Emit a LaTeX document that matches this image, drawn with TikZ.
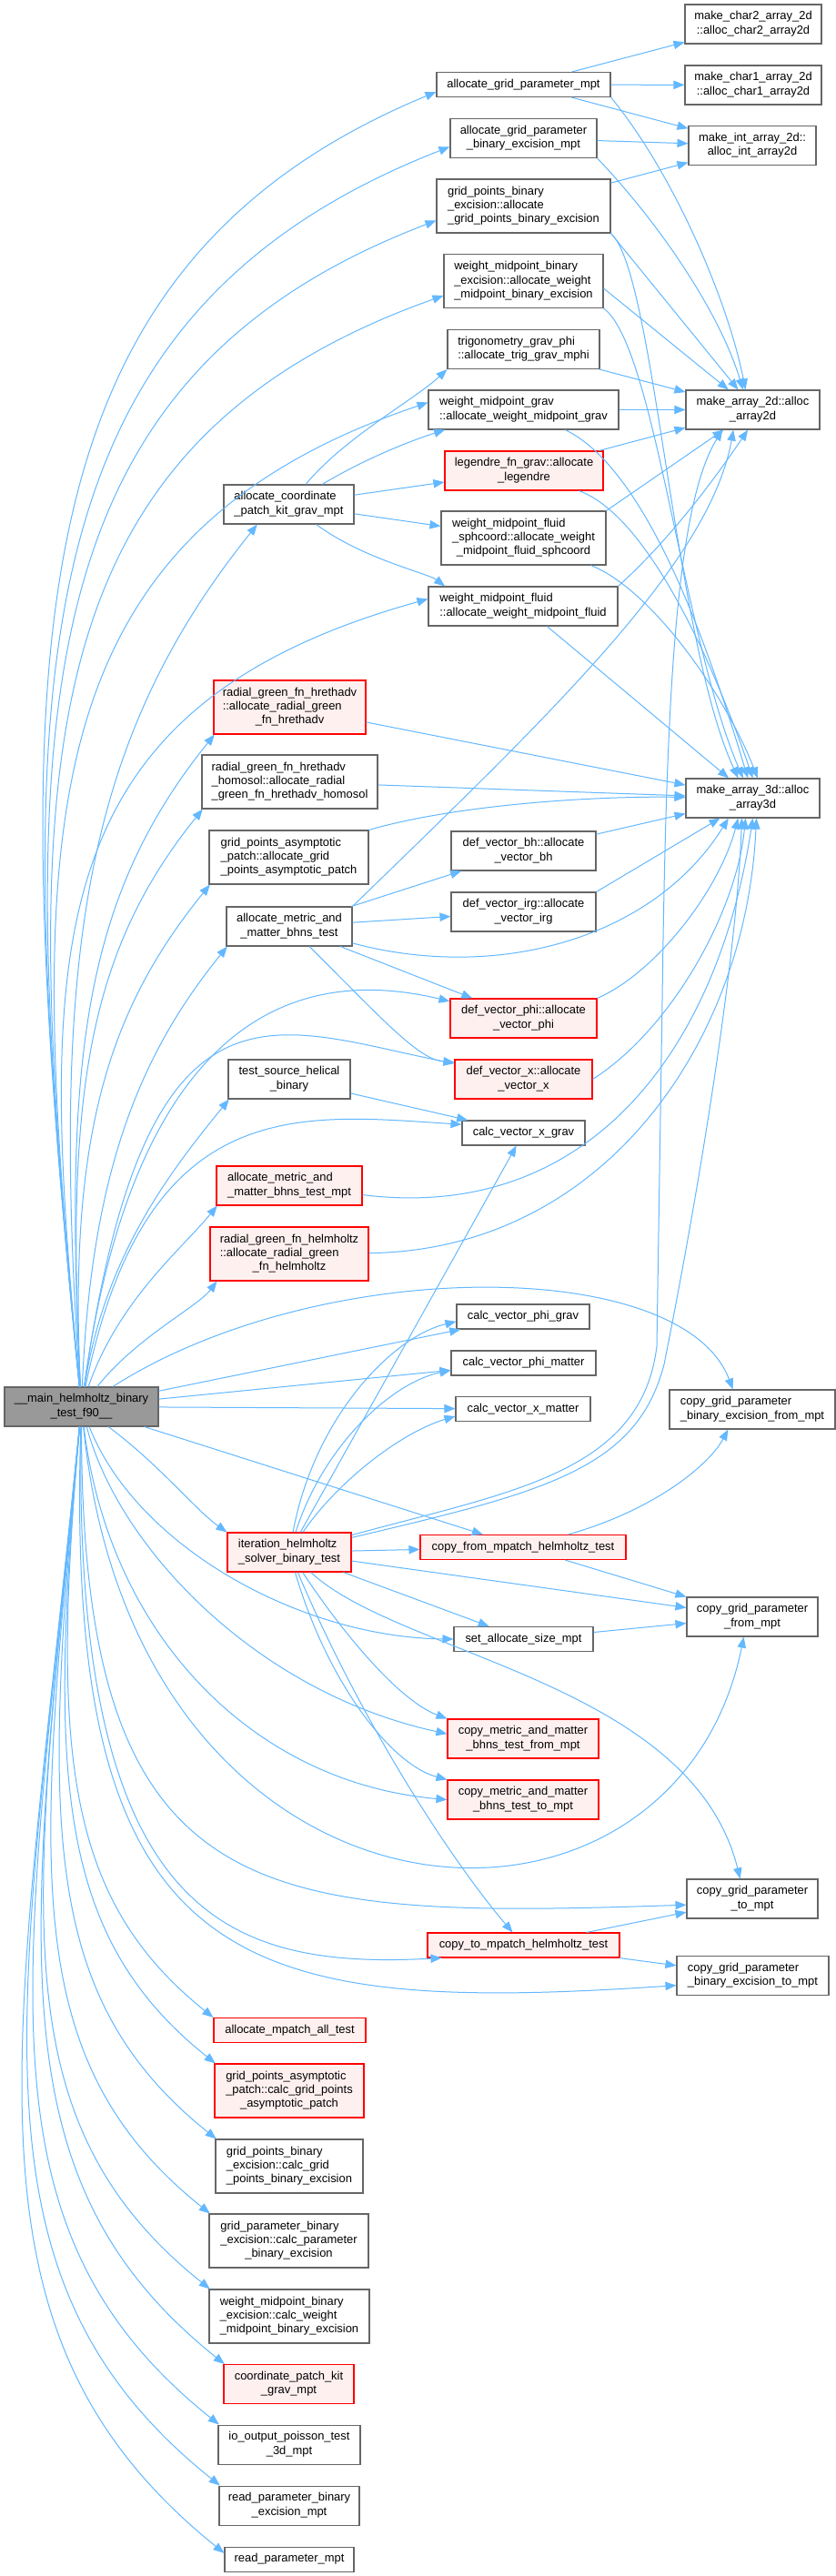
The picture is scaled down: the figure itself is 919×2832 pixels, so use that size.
\documentclass[tikz,border=0pt]{standalone}
\usepackage{fontspec}
\setmainfont{Liberation Sans}
\usetikzlibrary{arrows.meta}
\definecolor{edgec}{HTML}{63B8FF}
\definecolor{boxg}{HTML}{666666}
\definecolor{redfill}{HTML}{FFF0F0}
\definecolor{mainfill}{HTML}{999999}
\newcommand\lc[1]{\multicolumn{1}{@{}c@{}}{#1}}
\newcommand\tb[1]{\begin{tabular}{@{}l@{}}#1\end{tabular}}
\newcommand\gnode[7]{\node[#2, minimum width={#5*0.75pt}, minimum height={#6*0.75pt}] (#1) at (#3,#4) {#7};}
\tikzset{
 gb/.style={draw=boxg, fill=white, line width=0.8pt, inner sep=0pt, font=\fontsize{9.7}{11.5}\selectfont},
 rb/.style={gb, draw=red, fill=redfill},
 mb/.style={gb, fill=mainfill},
 conn/.style={draw=edgec, line width=0.75pt, -{Triangle[length=9pt,width=7pt]}},
}
\begin{document}
\begin{tikzpicture}[x=0.75pt, y=-0.75pt]
\path[use as bounding box, fill=white] (0,0) rectangle (919,2832);
% nodes
\gnode{n1}{gb}{828}{26.5}{150}{43}{\tb{make\_char2\_array\_2d\\\lc{::alloc\_char2\_array2d}}}
\gnode{n2}{gb}{828}{93.5}{150}{43}{\tb{make\_char1\_array\_2d\\\lc{::alloc\_char1\_array2d}}}
\gnode{n3}{gb}{827}{160}{140}{43}{\tb{make\_int\_array\_2d::\\\lc{alloc\_int\_array2d}}}
\gnode{n4}{gb}{575.5}{93}{191}{27}{allocate\_grid\_parameter\_mpt}
\gnode{n5}{gb}{575.5}{152}{161}{43}{\tb{allocate\_grid\_parameter\\\lc{\_binary\_excision\_mpt}}}
\gnode{n6}{gb}{575.5}{226.5}{191}{59}{\tb{grid\_points\_binary\\\_excision::allocate\\\lc{\_grid\_points\_binary\_excision}}}
\gnode{n7}{gb}{575.5}{309}{175}{59}{\tb{weight\_midpoint\_binary\\\_excision::allocate\_weight\\\lc{\_midpoint\_binary\_excision}}}
\gnode{n8}{gb}{575.5}{384}{167}{43}{\tb{trigonometry\_grav\_phi\\\lc{::allocate\_trig\_grav\_mphi}}}
\gnode{n9}{gb}{575.5}{450.5}{209}{43}{\tb{weight\_midpoint\_grav\\\lc{::allocate\_weight\_midpoint\_grav}}}
\gnode{n10}{gb}{827.5}{450.5}{147}{43}{\tb{make\_array\_2d::alloc\\\lc{\_array2d}}}
\gnode{n11}{rb}{576}{517.5}{174}{43}{\tb{legendre\_fn\_grav::allocate\\\lc{\_legendre}}}
\gnode{n12}{gb}{317.5}{554.5}{143}{43}{\tb{allocate\_coordinate\\\lc{\_patch\_kit\_grav\_mpt}}}
\gnode{n13}{gb}{575.5}{591.5}{181}{59}{\tb{weight\_midpoint\_fluid\\\_sphcoord::allocate\_weight\\\lc{\_midpoint\_fluid\_sphcoord}}}
\gnode{n14}{gb}{575}{666.5}{208}{43}{\tb{weight\_midpoint\_fluid\\\lc{::allocate\_weight\_midpoint\_fluid}}}
\gnode{n15}{rb}{318.5}{777.5}{167}{59}{\tb{radial\_green\_fn\_hrethadv\\::allocate\_radial\_green\\\lc{\_fn\_hrethadv}}}
\gnode{n16}{gb}{318.5}{859.5}{193}{59}{\tb{radial\_green\_fn\_hrethadv\\\_homosol::allocate\_radial\\\lc{\_green\_fn\_hrethadv\_homosol}}}
\gnode{n17}{gb}{827.5}{877.5}{147}{43}{\tb{make\_array\_3d::alloc\\\lc{\_array3d}}}
\gnode{n18}{gb}{317.5}{942.5}{175}{59}{\tb{grid\_points\_asymptotic\\\_patch::allocate\_grid\\\lc{\_points\_asymptotic\_patch}}}
\gnode{n19}{gb}{575.5}{935.5}{159}{43}{\tb{def\_vector\_bh::allocate\\\lc{\_vector\_bh}}}
\gnode{n20}{gb}{575.5}{1002.5}{159}{43}{\tb{def\_vector\_irg::allocate\\\lc{\_vector\_irg}}}
\gnode{n21}{gb}{318}{1018.5}{138}{43}{\tb{allocate\_metric\_and\\\lc{\_matter\_bhns\_test}}}
\gnode{n22}{rb}{575.5}{1119.5}{161}{43}{\tb{def\_vector\_phi::allocate\\\lc{\_vector\_phi}}}
\gnode{n23}{rb}{575.5}{1186.5}{151}{43}{\tb{def\_vector\_x::allocate\\\lc{\_vector\_x}}}
\gnode{n24}{gb}{318}{1186.5}{134}{43}{\tb{test\_source\_helical\\\lc{\_binary}}}
\gnode{n25}{gb}{575.5}{1245.5}{135}{27}{calc\_vector\_x\_grav}
\gnode{n26}{rb}{318}{1303.5}{160}{43}{\tb{allocate\_metric\_and\\\lc{\_matter\_bhns\_test\_mpt}}}
\gnode{n27}{rb}{318}{1378.5}{174}{59}{\tb{radial\_green\_fn\_helmholtz\\::allocate\_radial\_green\\\lc{\_fn\_helmholtz}}}
\gnode{n28}{gb}{575}{1447.5}{146}{27}{calc\_vector\_phi\_grav}
\gnode{n29}{gb}{575.5}{1498.5}{159}{27}{calc\_vector\_phi\_matter}
\gnode{n30}{gb}{575}{1549}{148}{27}{calc\_vector\_x\_matter}
\gnode{n31}{gb}{827}{1549.5}{182}{43}{\tb{copy\_grid\_parameter\\\lc{\_binary\_excision\_from\_mpt}}}
\gnode{n32}{rb}{318}{1706.5}{136}{43}{\tb{iteration\_helmholtz\\\lc{\_solver\_binary\_test}}}
\gnode{n33}{rb}{575}{1701}{226}{27}{copy\_from\_mpatch\_helmholtz\_test}
\gnode{n34}{gb}{827}{1777.5}{144}{43}{\tb{copy\_grid\_parameter\\\lc{\_from\_mpt}}}
\gnode{n35}{gb}{575.5}{1802}{153}{27}{set\_allocate\_size\_mpt}
\gnode{n36}{rb}{575}{1911.5}{166}{43}{\tb{copy\_metric\_and\_matter\\\lc{\_bhns\_test\_from\_mpt}}}
\gnode{n37}{rb}{575}{1978.5}{166}{43}{\tb{copy\_metric\_and\_matter\\\lc{\_bhns\_test\_to\_mpt}}}
\gnode{n38}{gb}{827}{2087.5}{144}{43}{\tb{copy\_grid\_parameter\\\lc{\_to\_mpt}}}
\gnode{n39}{rb}{575.5}{2138.5}{211}{27}{copy\_to\_mpatch\_helmholtz\_test}
\gnode{n40}{gb}{827.5}{2172}{167}{43}{\tb{copy\_grid\_parameter\\\lc{\_binary\_excision\_to\_mpt}}}
\gnode{n41}{rb}{318.5}{2232}{167}{27}{allocate\_mpatch\_all\_test}
\gnode{n42}{rb}{318}{2298.5}{164}{59}{\tb{grid\_points\_asymptotic\\\_patch::calc\_grid\_points\\\lc{\_asymptotic\_patch}}}
\gnode{n43}{gb}{318}{2381.5}{162}{59}{\tb{grid\_points\_binary\\\_excision::calc\_grid\\\lc{\_points\_binary\_excision}}}
\gnode{n44}{gb}{317.5}{2463.5}{175}{59}{\tb{grid\_parameter\_binary\\\_excision::calc\_parameter\\\lc{\_binary\_excision}}}
\gnode{n45}{gb}{318}{2546.5}{176}{59}{\tb{weight\_midpoint\_binary\\\_excision::calc\_weight\\\lc{\_midpoint\_binary\_excision}}}
\gnode{n46}{rb}{317.5}{2621}{143}{43}{\tb{coordinate\_patch\_kit\\\lc{\_grav\_mpt}}}
\gnode{n47}{gb}{318}{2687.5}{156}{43}{\tb{io\_output\_poisson\_test\\\lc{\_3d\_mpt}}}
\gnode{n48}{gb}{318}{2754.5}{154}{43}{\tb{read\_parameter\_binary\\\lc{\_excision\_mpt}}}
\gnode{n49}{gb}{318}{2813.5}{142}{27}{read\_parameter\_mpt}
\gnode{m}{mb}{89.5}{1546.5}{169}{43}{\tb{\lc{\_\_main\_helmholtz\_binary}\\\lc{\_test\_f90\_\_}}}
% main -> upper, far
\draw[conn] (m) .. controls (10,740) and (0,300) .. ([yshift=-6pt]n4.west);
\draw[conn] (m) .. controls (13,775) and (4,353) .. ([yshift=-7pt]n5.west);
\draw[conn] (m) .. controls (18,820) and (9,422) .. ([yshift=-12pt]n6.west);
\draw[conn] (m) .. controls (23,865) and (15,493) .. ([yshift=-12pt]n7.west);
\draw[conn] (m) .. controls (30,929) and (22,594) .. ([yshift=6pt]n9.west);
\draw[conn] (m) .. controls (43,1048) and (37,779) .. ([yshift=6pt]n14.west);
% main -> upper, from below-left
\draw[conn] (m) .. controls (55,1050) and (93,813) .. ([xshift=-26pt]n12.south);
\draw[conn] (m) .. controls (70,1165) and (92,986) .. ([xshift=1pt]n15.south west);
\draw[conn] (m) .. controls (72,1206) and (96,1047) .. ([xshift=1pt]n16.south west);
\draw[conn] (m) .. controls (75,1248) and (120,1109) .. ([xshift=1pt]n18.south west);
\draw[conn] (m) .. controls (100,1290) and (153,1160) .. ([xshift=1pt]n21.south west);
\draw[conn] (m) .. controls (115,1380) and (188,1287) .. ([xshift=1pt]n24.south west);
\draw[conn] (m) .. controls (130,1430) and (199,1374) .. ([xshift=1pt]n26.south west);
\draw[conn] (m) .. controls (150,1470) and (217,1437) .. ([xshift=6pt]n27.south west);
% main -> middle
\draw[conn] (m) .. controls (130,1250) and (240,1040) .. ([yshift=14pt]n22.west);
\draw[conn] (m) .. controls (160,1050) and (300,1130) .. ([yshift=13pt]n23.west);
\draw[conn] (m) .. controls (160,1200) and (330,1225) .. ([yshift=7pt]n25.west);
\draw[conn] (m) .. controls (350,1380) and (750,1380) .. ([xshift=-16pt]n31.north);
\draw[conn] (m) -- (n28);
\draw[conn] (m) -- (n29);
\draw[conn] (m) -- (n30);
\draw[conn] (m) -- (n33);
\draw[conn] (m) .. controls (175,1610) and (215,1660) .. (n32.north west);
% main -> lower
\draw[conn] (m) .. controls (150,1700) and (330,1800) .. (n35.west);
\draw[conn] (m) .. controls (130,1700) and (280,1860) .. ([yshift=4pt]n36.west);
\draw[conn] (m) .. controls (120,1800) and (280,1960) .. (n37.west);
\draw[conn] (m) .. controls (150,2150) and (740,2180) .. ([xshift=-7pt]n34.south);
\draw[conn] (m) .. controls (90,2100) and (280,2110) .. ([yshift=-5pt]n38.west);
\draw[conn] (m) .. controls (80,2110) and (250,2165) .. ([xshift=12pt]n39.south west);
\draw[conn] (m) .. controls (70,2170) and (260,2215) .. ([yshift=-8pt]n40.west);
\draw[conn] (m) .. controls (56,1926) and (72,2088) .. (n41.north west);
\draw[conn] (m) .. controls (53,1954) and (62,2129) .. ([xshift=1pt]n42.north west);
\draw[conn] (m) .. controls (48,2000) and (42,2195) .. ([xshift=1pt]n43.north west);
\draw[conn] (m) .. controls (43,2044) and (15,2261) .. ([xshift=1pt]n44.north west);
\draw[conn] (m) .. controls (38,2090) and (-6,2327) .. ([xshift=1pt]n45.north west);
\draw[conn] (m) .. controls (33,2135) and (-11,2393) .. ([xshift=1pt]n46.north west);
\draw[conn] (m) .. controls (29,2172) and (-34,2446) .. ([xshift=1pt]n47.north west);
\draw[conn] (m) .. controls (25,2209) and (-49,2500) .. ([xshift=1pt]n48.north west);
\draw[conn] (m) .. controls (21,2249) and (-62,2558) .. ([yshift=5pt]n49.west);
% top right cluster
\draw[conn] (n4) -- (n1);
\draw[conn] (n4) -- (n2);
\draw[conn] (n4) -- (n3);
\draw[conn] (n5) -- (n3);
\draw[conn] (n6) -- (n3);
% -> make_array_2d
\draw[conn] (n4.south east) .. controls (740,190) and (800,330) .. ([xshift=-6pt]n10.north);
\draw[conn] (n5.south east) .. controls (720,240) and (790,340) .. ([xshift=-8pt]n10.north);
\draw[conn] (n6.south east) -- ([xshift=-12pt]n10.north);
\draw[conn] ([yshift=-6pt]n7.east) -- ([xshift=-20pt]n10.north);
\draw[conn] (n8) -- (n10);
\draw[conn] (n9) -- (n10);
\draw[conn] (n11) -- (n10);
\draw[conn] (n13.north east) -- (n10);
\draw[conn] (n14.north east) .. controls (740,590) and (790,520) .. ([xshift=-4pt]n10.south);
\draw[conn] (n21.north east) .. controls (600,790) and (780,620) .. ([xshift=-16pt]n10.south);
% -> make_array_3d
\draw[conn] (n6.south east) .. controls (720,300) and (740,700) .. ([xshift=-12pt]n17.north);
\draw[conn] (n7.south east) .. controls (720,380) and (750,700) .. ([xshift=-8pt]n17.north);
\draw[conn] (n9) .. controls (720,520) and (790,750) .. ([xshift=-4pt]n17.north);
\draw[conn] (n11) .. controls (720,570) and (795,760) .. (n17.north);
\draw[conn] (n13) .. controls (720,650) and (800,770) .. ([xshift=4pt]n17.north);
\draw[conn] (n14) -- (n17);
\draw[conn] (n15) -- (n17);
\draw[conn] (n16) -- (n17);
\draw[conn] (n18.north east) .. controls (500,885) and (650,875) .. (n17);
\draw[conn] (n19) -- (n17);
\draw[conn] (n20.north east) -- ([xshift=-27pt]n17.south);
\draw[conn] (n21) .. controls (550,1080) and (720,1030) .. ([xshift=-20pt]n17.south);
\draw[conn] (n22.north east) .. controls (720,1070) and (790,980) .. ([xshift=-12pt]n17.south);
\draw[conn] (n23.east) .. controls (740,1130) and (810,1000) .. ([xshift=-6pt]n17.south);
\draw[conn] (n26) .. controls (650,1345) and (790,1150) .. (n17.south);
\draw[conn] (n27) .. controls (660,1375) and (820,1150) .. ([xshift=3pt]n17.south);
% allocate_coordinate_patch_kit_grav_mpt
\draw[conn] (n12) .. controls (380,480) and (455,440) .. (n8.south west);
\draw[conn] (n12) .. controls (400,505) and (450,485) .. ([xshift=14pt]n9.south west);
\draw[conn] (n12) -- (n11);
\draw[conn] (n12) -- (n13);
\draw[conn] (n12) .. controls (400,615) and (470,630) .. ([xshift=14pt]n14.north west);
% allocate_metric_and_matter_bhns_test
\draw[conn] (n21) -- (n19);
\draw[conn] (n21) -- (n20);
\draw[conn] (n21) -- (n22);
\draw[conn] (n21) .. controls (420,1120) and (460,1165) .. ([yshift=14pt]n23.west);
\draw[conn] (n24) -- (n25);
% iteration
\draw[conn] (n32) -- (n25);
\draw[conn] (n32) .. controls (345,1560) and (430,1470) .. ([yshift=-4pt]n28.west);
\draw[conn] (n32) .. controls (355,1590) and (430,1520) .. ([yshift=-6pt]n29.west);
\draw[conn] (n32) .. controls (370,1630) and (440,1575) .. ([yshift=-6pt]n30.west);
\draw[conn] (n32) -- (n33);
\draw[conn] (n32) -- (n34);
\draw[conn] (n32) -- (n35);
\draw[conn] (n32) .. controls (380,1800) and (440,1870) .. (n36.north west);
\draw[conn] (n32) .. controls (360,1850) and (430,1940) .. (n37.north west);
\draw[conn] (n32) .. controls (400,1900) and (500,2050) .. (n39);
\draw[conn] (n32) .. controls (440,1820) and (760,1850) .. ([xshift=-10pt]n38.north);
\draw[conn] (n32) .. controls (600,1640) and (700,1615) .. (730,1500) .. controls (770,1300) and (810,1050) .. ([xshift=-9pt]n17.south);
\draw[conn] (n32) .. controls (560,1640) and (705,1620) .. (722,1480) -- (728,1100) .. controls (732,800) and (740,560) .. ([xshift=-25pt]n10.south);
% copy helpers
\draw[conn] (n33) .. controls (720,1660) and (780,1610) .. ([xshift=-20pt]n31.south);
\draw[conn] (n33) -- (n34);
\draw[conn] (n35) -- (n34);
\draw[conn] (n39) -- (n38);
\draw[conn] (n39) -- (n40);
\end{tikzpicture}
\end{document}
